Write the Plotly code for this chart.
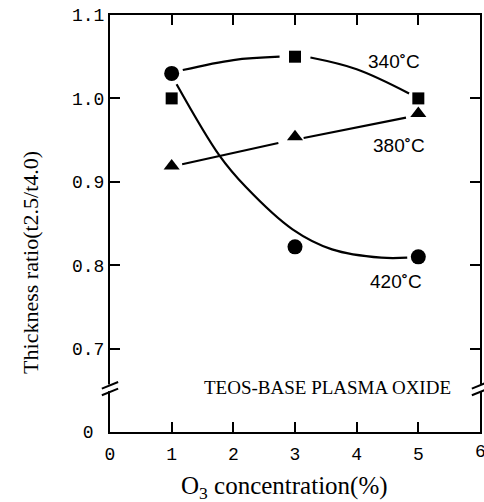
import plotly.graph_objects as go

# ---- data ----
o3 = [1, 3, 5]
ratio_340 = [1.000, 1.050, 1.000]
ratio_380 = [0.919, 0.954, 0.982]
ratio_420 = [1.030, 0.822, 0.810]

# hand-drawn guide curves
curve340a_x = [1.18, 2.0, 2.75]
curve340a_y = [1.034, 1.046, 1.050]
curve340b_x = [3.25, 4.0, 4.85]
curve340b_y = [1.049, 1.035, 1.006]
curve380a_x = [1.17, 2.73]
curve380a_y = [0.921, 0.9465]
curve380b_x = [3.14, 4.8]
curve380b_y = [0.9525, 0.977]
curve420_x = [1.08, 1.77, 2.2, 2.96, 3.6, 4.4, 4.82]
curve420_y = [1.017, 0.932, 0.894, 0.843, 0.819, 0.809, 0.809]

x_ticks = [0, 1, 2, 3, 4, 5]
x_ticktext = ["0", "1", "2", "3", "4", "5"]
y_tickvals = [0.6, 0.7, 0.8, 0.9, 1.0, 1.1]
y_ticktext = ["0&nbsp;", "0.7", "0.8", "0.9", "1.0", "1.1"]

labels = ["340<b>\u02DA</b>C", "380<b>\u02DA</b>C", "420<b>\u02DA</b>C"]
label_x = [4.6, 4.68, 4.63]
label_y = [1.044, 0.943, 0.780]

fig = go.Figure()

for cx, cy, shape in [(curve340a_x, curve340a_y, "spline"),
                      (curve340b_x, curve340b_y, "spline"),
                      (curve380a_x, curve380a_y, "linear"),
                      (curve380b_x, curve380b_y, "linear"),
                      (curve420_x, curve420_y, "spline")]:
    fig.add_trace(go.Scatter(x=cx, y=cy, mode="lines",
                             line=dict(color="black", width=2.2, shape=shape),
                             hoverinfo="skip", showlegend=False))

fig.add_trace(go.Scatter(x=o3, y=ratio_340, mode="markers",
                         marker=dict(symbol="square", size=12, color="black"),
                         showlegend=False))
fig.add_trace(go.Scatter(x=o3, y=ratio_380, mode="markers",
                         marker=dict(symbol="triangle-up", size=14, color="black"),
                         showlegend=False))
fig.add_trace(go.Scatter(x=o3, y=ratio_420, mode="markers",
                         marker=dict(symbol="circle", size=15, color="black"),
                         showlegend=False))

for t, lx, ly in zip(labels, label_x, label_y):
    fig.add_annotation(x=lx, y=ly, text=t, showarrow=False,
                       font=dict(family="Liberation Sans", size=19, color="black"))

fig.add_annotation(x=3.52, y=0.653, text="TEOS-BASE PLASMA OXIDE", showarrow=False,
                   font=dict(family="Liberation Serif", size=19, color="black"))

# last x tick label (cut by the page edge in the original)
fig.add_annotation(x=6, y=-0.048, xref="x", yref="paper", text="6", showarrow=False,
                   xanchor="center", yanchor="middle",
                   font=dict(family="Liberation Mono", size=18, color="black"))

# axis titles
fig.add_annotation(x=2.83, y=-0.132, xref="x", yref="paper",
                   text="O<sub>3</sub> concentration(%)", showarrow=False,
                   xanchor="center", yanchor="middle",
                   font=dict(family="Liberation Serif", size=25, color="black"))
fig.add_annotation(x=-0.213, y=0.803, xref="paper", yref="y",
                   text="Thickness ratio(t2.5/t4.0)", showarrow=False, textangle=-90,
                   xanchor="center", yanchor="middle",
                   font=dict(family="Liberation Serif", size=22, color="black"))

# axis break marks
for xp in [0.0, 1.0]:
    fig.add_shape(type="rect", xref="paper", yref="y", x0=xp - 0.006, x1=xp + 0.006,
                  y0=0.649, y1=0.657, fillcolor="white", line=dict(width=0))
    for yo in [0.648, 0.656]:
        fig.add_shape(type="line", xref="paper", yref="y",
                      x0=xp - 0.022, x1=xp + 0.022, y0=yo - 0.004, y1=yo + 0.004,
                      line=dict(color="black", width=2))

fig.update_layout(
    width=484, height=502,
    margin=dict(l=110, r=2, t=15, b=70),
    paper_bgcolor="white", plot_bgcolor="white",
    xaxis=dict(range=[0, 6], tickvals=x_ticks, ticktext=x_ticktext,
               ticks="inside", ticklen=10,
               tickwidth=2, tickcolor="black", showline=True, linecolor="black",
               linewidth=2, mirror="ticks", showgrid=False, zeroline=False,
               ticklabelstandoff=4,
               tickfont=dict(family="Liberation Mono", size=18, color="black")),
    yaxis=dict(range=[0.6, 1.1], tickvals=y_tickvals, ticktext=y_ticktext,
               ticks="inside", ticklen=10, tickwidth=2, tickcolor="black",
               showline=True, linecolor="black", linewidth=2, mirror="ticks",
               showgrid=False, zeroline=False,
               tickfont=dict(family="Liberation Mono", size=18, color="black")),
)

fig.write_html("out.html")
